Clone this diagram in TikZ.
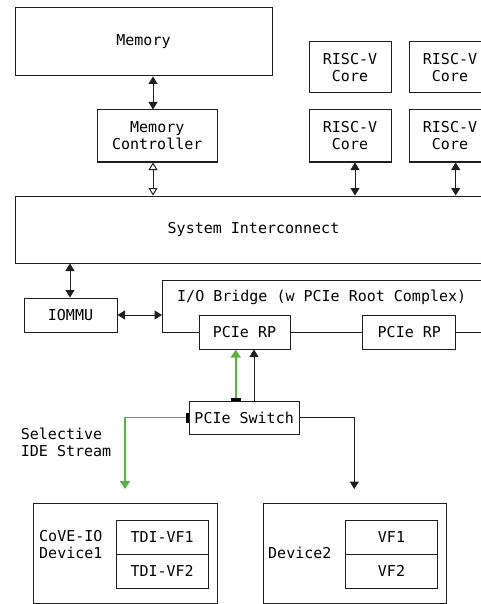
\documentclass[tikz,border=0pt]{standalone}
\usepackage{fontspec}
\setmonofont{DejaVu Sans Mono}
\usetikzlibrary{arrows.meta}
\definecolor{ln}{HTML}{1E1E1E}
\definecolor{grn}{RGB}{90,180,66}
\begin{document}
\begin{tikzpicture}[x=1pt,y=-1pt,
  txt/.style={font=\ttfamily\fontsize{15}{17}\selectfont},
  box/.style={txt,draw=ln,line width=1pt,inner sep=0pt,align=center},
  lbl/.style={txt,inner sep=0pt,align=left},
  wire/.style={draw=ln,line width=1pt},
  ft/.tip={Triangle[length=7.5pt,width=9pt]},
  ot/.tip={Triangle[open,length=7.5pt,width=9pt,fill=white]},
  both/.style={wire,{ft}-{ft}},
  bothopen/.style={wire,{ot}-{ot}},
  upto/.style={wire,-{ft}},
  gwire/.style={draw=grn,line width=1.9pt,{Bar[width=10pt,line width=2.2pt,color=black]}-{Triangle[length=8pt,width=10pt,color=grn]}}
]
\useasboundingbox (0,0) rectangle (481,604);

% top level
\node[box,minimum width=257pt,minimum height=68pt] (mem) at (143.5,42) {Memory};
\node[box,minimum width=119.5pt,minimum height=52pt] (mc) at (157.25,136) {Memory\\Controller};
\node[box,minimum width=82pt,minimum height=51pt] (c1) at (350,67.5) {RISC-V\\Core};
\node[box,minimum width=82pt,minimum height=51pt] (c2) at (450,67.5) {RISC-V\\Core};
\node[box,minimum width=82pt,minimum height=52pt] (c3) at (350,136) {RISC-V\\Core};
\node[box,minimum width=82pt,minimum height=52pt] (c4) at (450,136) {RISC-V\\Core};
\node[box,minimum width=477pt,minimum height=67pt] (sys) at (253.5,229.5) {System Interconnect};

\draw[both] (153,0 |- mem.south) -- (153,0 |- mc.north);
\draw[bothopen] (153,0 |- mc.south) -- (153,0 |- sys.north);
\draw[both] (355,0 |- c3.south) -- (355,0 |- sys.north);
\draw[both] (455.7,0 |- c4.south) -- (455.7,0 |- sys.north);

% IOMMU and I/O bridge
\node[box,minimum width=93pt,minimum height=34pt] (iommu) at (70.5,315) {IOMMU};
\draw[both] (70,0 |- sys.south) -- (70,0 |- iommu.north);

\node[box,minimum width=91pt,minimum height=34pt,fill=white] (rp1) at (244.5,332) {PCIe RP};
\node[box,minimum width=92.7pt,minimum height=34pt,fill=white] (rp2) at (409.3,332) {PCIe RP};
\coordinate (brtop) at (500,280.7);
\coordinate (brleft) at (162,315);
\coordinate (brright) at (500,332);
\draw[wire] (brtop) -| (162,332) -- (rp1.west);
\draw[wire] (rp1.east) -- (rp2.west);
\draw[wire] (rp2.east) -- (brright);
\node[lbl,anchor=west] (brt) at (177,297) {I/O Bridge (w PCIe Root Complex)};
\draw[both] (iommu.east) -- (brleft);

% switch
\node[box,minimum width=110.3pt,minimum height=33pt] (sw) at (244.15,417.5) {PCIe Switch};
\draw[gwire] (235.7,0 |- sw.north) -- (235.7,0 |- rp1.south);
\draw[upto] (254,0 |- sw.north) -- (254,0 |- rp1.south);

\coordinate (d1in) at (125,489);
\coordinate (d2in) at (354.3,489);
\draw[gwire] (sw.west) -| (d1in);
\draw[upto] (sw.east) -| (d2in);
\node[lbl,anchor=west] (sel) at (20.7,442.5) {Selective\\IDE Stream};

% devices
\node[box,minimum width=184pt,minimum height=100pt] (dev1) at (125.3,553) {};
\node[box,minimum width=92.3pt,minimum height=34pt] (t1) at (162.15,537) {TDI-VF1};
\node[box,minimum width=92.3pt,minimum height=34pt] (t2) at (162.15,571) {TDI-VF2};
\node[lbl,anchor=west] (d1t) at (39,545) {CoVE-IO\\Device1};

\node[box,minimum width=183.4pt,minimum height=100pt] (dev2) at (355,553) {};
\node[box,minimum width=91.6pt,minimum height=34pt] (v1) at (391.5,537) {VF1};
\node[box,minimum width=91.6pt,minimum height=34pt] (v2) at (391.5,571) {VF2};
\node[lbl,anchor=west] (d2t) at (268,553) {Device2};
\end{tikzpicture}
\end{document}
